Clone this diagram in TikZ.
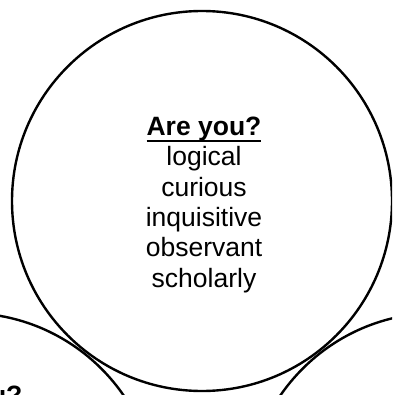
\documentclass[tikz,border=0pt]{standalone}
\usepackage{fontspec}
\setmainfont{Liberation Sans}
\usetikzlibrary{positioning}
\newcommand{\headline}[1]{\setbox0=\hbox{\textbf{#1}}\rlap{\rule[-3.35pt]{\wd0}{1.35pt}}\box0}
\tikzset{
  venn/.style={circle,draw,line width=1.2pt,minimum size=190pt,inner sep=0pt},
  cue/.style={align=center,inner sep=0pt,font=\fontsize{13.25}{15.15}\selectfont}
}

\begin{document}
\begin{tikzpicture}[x=0.5pt,y=-0.5pt]
  \useasboundingbox (0,0) rectangle (392,395);
  \clip (0,0) rectangle (392,395);
  \node[venn] (T) at (202,201) {};
  \node[venn] (BL) at (-33,503) {};
  \node[venn] (BR) at (437,503) {};
  \node[cue, anchor=base] (Tq) at (204,287) {\headline{Are you?}\\logical\\curious\\inquisitive\\observant\\scholarly};
  \node[cue, anchor=base] (BLq) at (-35,404) {\headline{Are you?}};
\end{tikzpicture}
\end{document}
